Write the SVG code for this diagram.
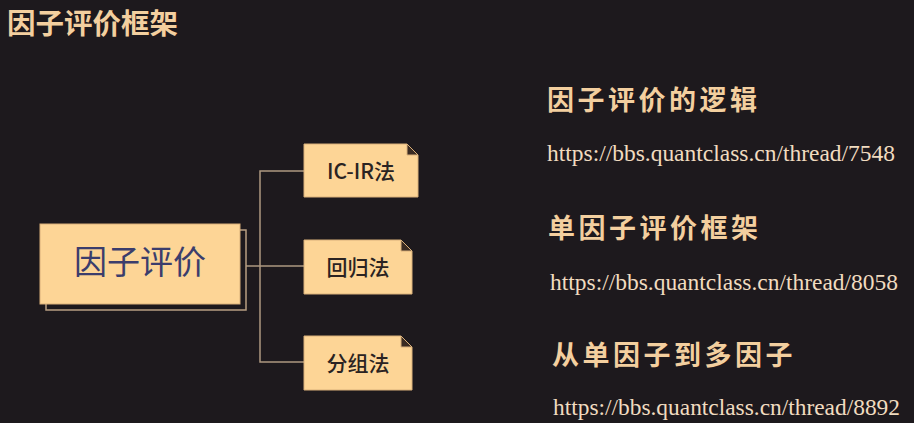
<svg xmlns="http://www.w3.org/2000/svg" width="914" height="423" viewBox="0 0 914 423">
<style>
.bg{fill:#1d191d}
.title{font-family:"Noto Sans CJK SC","Noto Sans",sans-serif;font-weight:700;fill:#f3cf9f}
.url{font-family:"Liberation Serif",serif;font-size:24px;fill:#f1dcc0}
.box{fill:#fdd596;stroke:#d9b07a;stroke-width:1}
.shadow{fill:none;stroke:#b89f82;stroke-width:1.5}
.fold{fill:#3a2b22;stroke:#d9b07a;stroke-width:1}
.main{font-family:"Noto Sans CJK SC",sans-serif;font-size:33px;fill:#3b3d6c;text-anchor:middle}
.child{font-family:"Noto Sans CJK SC",sans-serif;font-size:21px;fill:#2a2322;text-anchor:middle;font-weight:500}
.conn{fill:none;stroke:#ad9880;stroke-width:1.5}
</style>
<rect class="bg" x="0" y="0" width="914" height="423"/>
<text class="title" x="7" y="33.5" font-size="28.5">因子评价框架</text>

<g id="connectors">
<path class="conn" d="M246,266 H304"/>
<path class="conn" d="M304,171 H260 V362 H304"/>
</g>

<g id="node-main">
<rect class="shadow" x="46" y="230" width="200" height="80"/>
<rect class="box" x="40" y="224" width="200" height="80"/>
<text class="main" x="140" y="274">因子评价</text>
</g>

<g id="node-icir">
<path class="box" d="M304,144 H407 L418,155 V197 H304 Z"/>
<path class="fold" d="M407,144 V155 H418 Z"/>
<text class="child" x="361" y="179">IC-IR法</text>
</g>

<g id="node-regress">
<path class="box" d="M304,240 H401 L412,251 V294 H304 Z"/>
<path class="fold" d="M401,240 V251 H412 Z"/>
<text class="child" x="358" y="275">回归法</text>
</g>

<g id="node-group">
<path class="box" d="M304,336 H401 L412,347 V390 H304 Z"/>
<path class="fold" d="M401,336 V347 H412 Z"/>
<text class="child" x="358" y="371">分组法</text>
</g>

<g id="links">
<text class="title" x="547" y="110" font-size="27" letter-spacing="3.5">因子评价的逻辑</text>
<text class="url" x="547" y="161" textLength="348" lengthAdjust="spacingAndGlyphs">https://bbs.quantclass.cn/thread/7548</text>
<text class="title" x="548" y="238" font-size="27" letter-spacing="3.5">单因子评价框架</text>
<text class="url" x="550" y="290" textLength="348" lengthAdjust="spacingAndGlyphs">https://bbs.quantclass.cn/thread/8058</text>
<text class="title" x="552" y="365" font-size="27" letter-spacing="3.5">从单因子到多因子</text>
<text class="url" x="553" y="415" textLength="347" lengthAdjust="spacingAndGlyphs">https://bbs.quantclass.cn/thread/8892</text>
</g>
</svg>
